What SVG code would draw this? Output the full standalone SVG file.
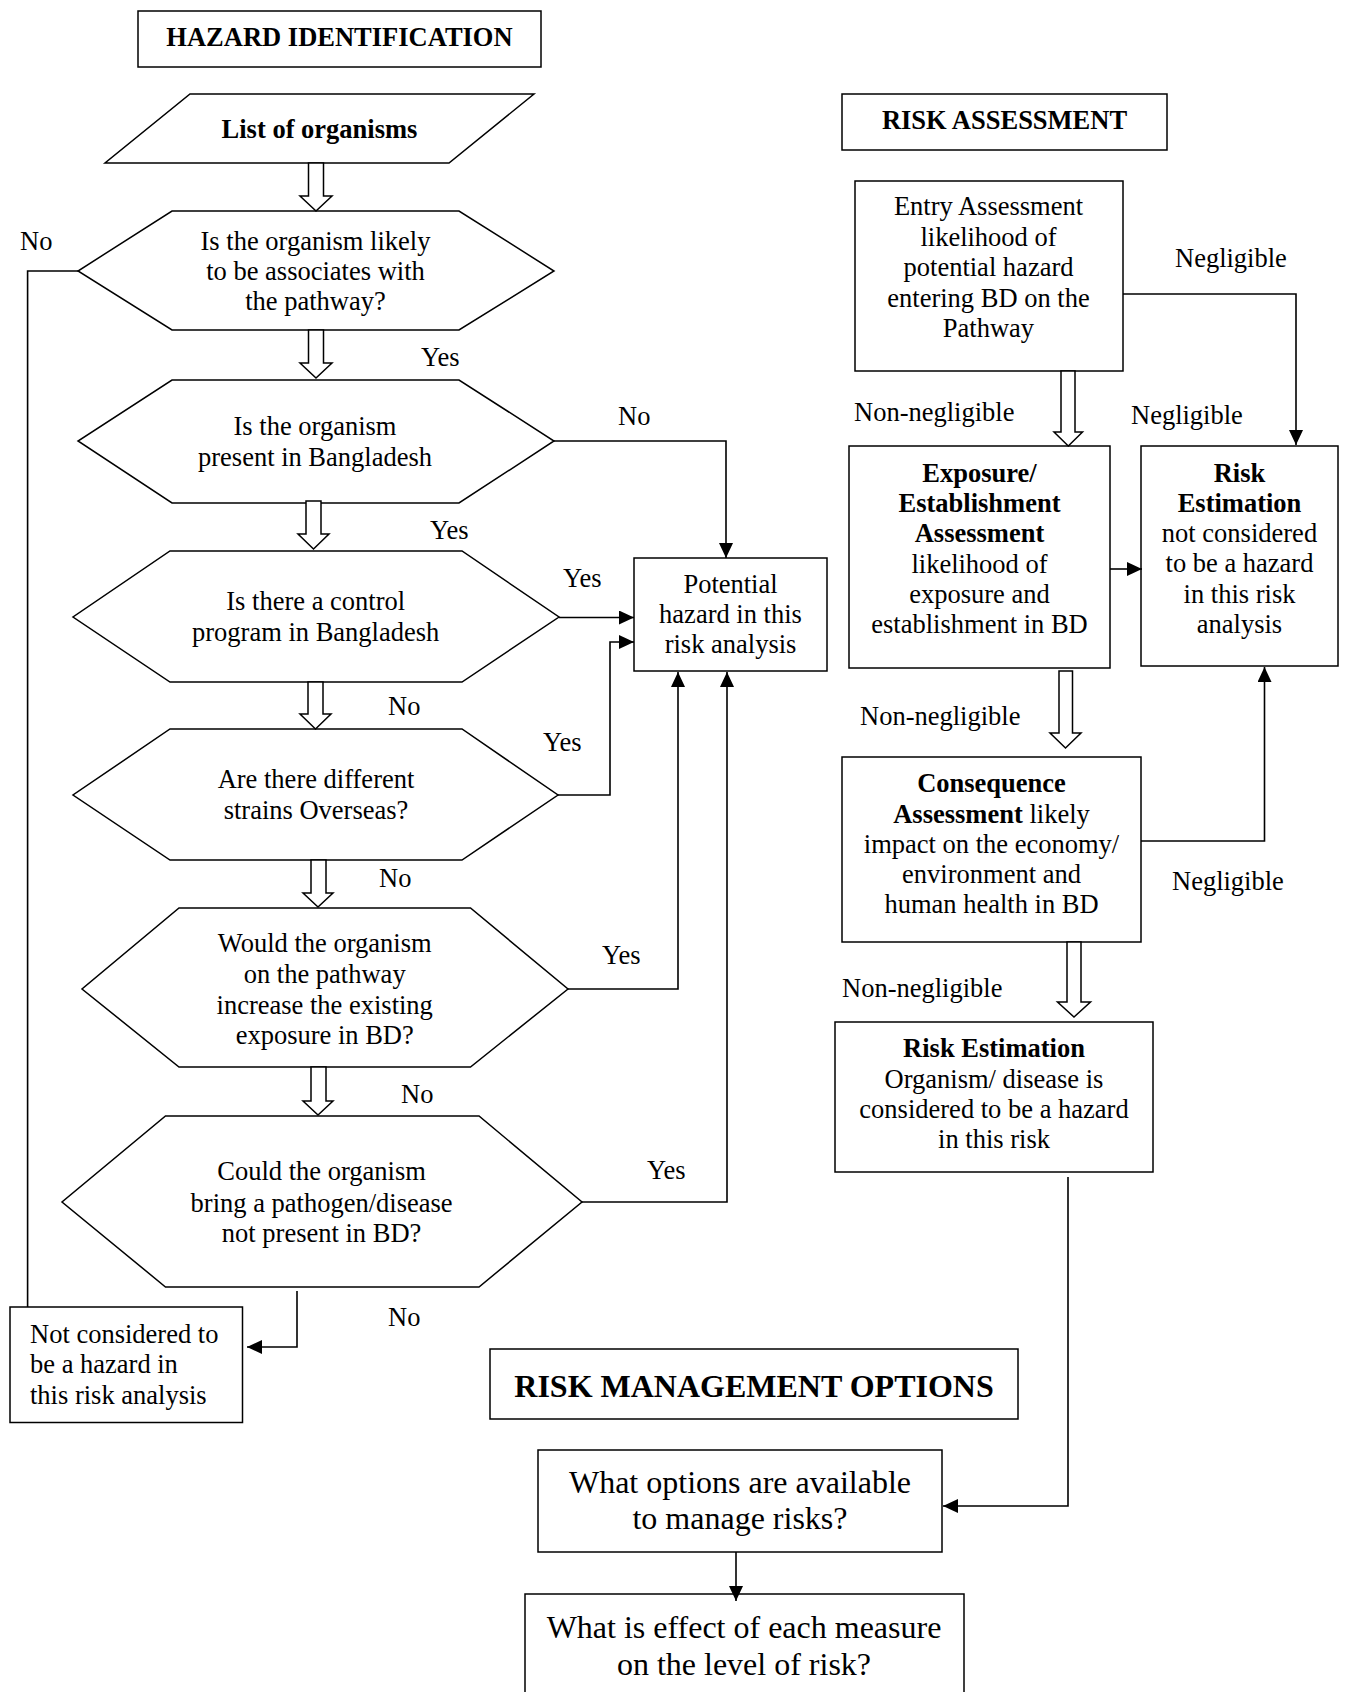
<svg xmlns="http://www.w3.org/2000/svg" width="1347" height="1692" viewBox="0 0 1347 1692">
  <defs>
    <marker id="arrow" markerUnits="userSpaceOnUse" markerWidth="16" markerHeight="14" refX="15" refY="7" orient="auto">
      <path d="M0,0 L15,7 L0,14 Z" fill="#000"/>
    </marker>
    <style>
      text { font-family: "Liberation Serif", "Times New Roman", serif; font-size: 26.5px; fill: #000; }
      .c { text-anchor: middle; }
      .b { font-weight: bold; }
      .big { font-size: 32px; }
      .shape { fill: #fff; stroke: #000; stroke-width: 1.5; }
      .hollow { fill: #fff; stroke: #000; stroke-width: 1.5; stroke-linejoin: miter; }
      .link { fill: none; stroke: #000; stroke-width: 1.6; }
      .link-a { fill: none; stroke: #000; stroke-width: 1.6; marker-end: url(#arrow); }
    </style>
  </defs>
  <rect width="1347" height="1692" fill="#fff"/>

  <!-- Section headers -->
  <g id="hdr-hazard">
    <rect class="shape" x="138" y="11" width="403" height="56"/>
    <text class="c b" x="339.5" y="45.5">HAZARD IDENTIFICATION</text>
  </g>
  <g id="hdr-risk">
    <rect class="shape" x="842" y="94" width="325" height="56"/>
    <text class="c b" x="1004.5" y="129">RISK ASSESSMENT</text>
  </g>
  <g id="hdr-mgmt">
    <rect class="shape" x="490" y="1349" width="528" height="70"/>
    <text class="c b big" x="754" y="1397">RISK MANAGEMENT OPTIONS</text>
  </g>

  <!-- Hazard identification column -->
  <g id="list">
    <polygon class="shape" points="190,94 534,94 449,163 105,163"/>
    <text class="c b" x="319.5" y="138">List of organisms</text>
  </g>
  <g id="q-pathway">
    <polygon class="shape" points="172,211 459,211 554,271 459,330 172,330 78,271"/>
    <text class="c" x="315.5" y="250">Is the organism likely</text>
    <text class="c" x="315.5" y="280">to be associates with</text>
    <text class="c" x="315.5" y="310">the pathway?</text>
  </g>
  <g id="q-present">
    <polygon class="shape" points="172,380 459,380 554,441 459,503 172,503 78,441"/>
    <text class="c" x="315" y="435">Is the organism</text>
    <text class="c" x="315" y="466">present in Bangladesh</text>
  </g>
  <g id="q-control">
    <polygon class="shape" points="170,551 462,551 559,617 462,682 170,682 73,617"/>
    <text class="c" x="315.7" y="610">Is there a control</text>
    <text class="c" x="315.7" y="641">program in Bangladesh</text>
  </g>
  <g id="q-strains">
    <polygon class="shape" points="170,729 462,729 558,795 462,860 170,860 73,795"/>
    <text class="c" x="316" y="788">Are there different</text>
    <text class="c" x="316" y="819">strains Overseas?</text>
  </g>
  <g id="q-exposure">
    <polygon class="shape" points="179,908 470.5,908 568,989 470.5,1067 179,1067 82,989"/>
    <text class="c" x="324.7" y="952">Would the organism</text>
    <text class="c" x="324.7" y="983">on the pathway</text>
    <text class="c" x="324.7" y="1013.5">increase the existing</text>
    <text class="c" x="324.7" y="1044">exposure in BD?</text>
  </g>
  <g id="q-pathogen">
    <polygon class="shape" points="165.5,1116 479,1116 582,1202 479,1287 165.5,1287 62,1202"/>
    <text class="c" x="321.6" y="1180">Could the organism</text>
    <text class="c" x="321.6" y="1212">bring a pathogen/disease</text>
    <text class="c" x="321.6" y="1242">not present in BD?</text>
  </g>
  <g id="not-hazard">
    <rect class="shape" x="10" y="1307" width="232.5" height="115.5"/>
    <text x="30" y="1343">Not considered to</text>
    <text x="30" y="1373">be a hazard in</text>
    <text x="30" y="1404">this risk analysis</text>
  </g>
  <g id="potential">
    <rect class="shape" x="634" y="558" width="193" height="113"/>
    <text class="c" x="730.5" y="593">Potential</text>
    <text class="c" x="730.5" y="623">hazard in this</text>
    <text class="c" x="730.5" y="653">risk analysis</text>
  </g>

  <!-- Risk assessment column -->
  <g id="entry">
    <rect class="shape" x="855" y="181" width="268" height="190"/>
    <text class="c" x="988.5" y="215">Entry Assessment</text>
    <text class="c" x="988.5" y="246">likelihood of</text>
    <text class="c" x="988.5" y="276">potential hazard</text>
    <text class="c" x="988.5" y="307">entering BD on the</text>
    <text class="c" x="988.5" y="337">Pathway</text>
  </g>
  <g id="exposure">
    <rect class="shape" x="849" y="446" width="261" height="222"/>
    <text class="c b" x="979.5" y="482">Exposure/</text>
    <text class="c b" x="979.5" y="512">Establishment</text>
    <text class="c b" x="979.5" y="542">Assessment</text>
    <text class="c" x="979.5" y="573">likelihood of</text>
    <text class="c" x="979.5" y="603">exposure and</text>
    <text class="c" x="979.5" y="633">establishment in BD</text>
  </g>
  <g id="estimation-neg">
    <rect class="shape" x="1141" y="446" width="197" height="220"/>
    <text class="c b" x="1239.5" y="482">Risk</text>
    <text class="c b" x="1239.5" y="512">Estimation</text>
    <text class="c" x="1239.5" y="542">not considered</text>
    <text class="c" x="1239.5" y="572">to be a hazard</text>
    <text class="c" x="1239.5" y="603">in this risk</text>
    <text class="c" x="1239.5" y="633">analysis</text>
  </g>
  <g id="consequence">
    <rect class="shape" x="842" y="757" width="299" height="185"/>
    <text class="c b" x="991.5" y="792">Consequence</text>
    <text class="c" x="991.5" y="823"><tspan class="b">Assessment</tspan> likely</text>
    <text class="c" x="991.5" y="853">impact on the economy/</text>
    <text class="c" x="991.5" y="883">environment and</text>
    <text class="c" x="991.5" y="913">human health in BD</text>
  </g>
  <g id="estimation-hazard">
    <rect class="shape" x="835" y="1022" width="318" height="150"/>
    <text class="c b" x="994" y="1057">Risk Estimation</text>
    <text class="c" x="994" y="1088">Organism/ disease is</text>
    <text class="c" x="994" y="1118">considered to be a hazard</text>
    <text class="c" x="994" y="1148">in this risk</text>
  </g>

  <!-- Risk management -->
  <g id="options">
    <rect class="shape" x="538" y="1450" width="404" height="102"/>
    <text class="c big" x="740" y="1493">What options are available</text>
    <text class="c big" x="740" y="1529">to manage risks?</text>
  </g>
  <g id="effect">
    <rect class="shape" x="525" y="1594" width="439" height="110"/>
    <text class="c big" x="744" y="1638">What is effect of each measure</text>
    <text class="c big" x="744" y="1675">on the level of risk?</text>
  </g>

  <!-- Connectors -->
  <g id="connectors">
    <!-- hollow flow arrows -->
    <path class="hollow" d="M308.5,163 H323.5 V196 H332 L316,211 L300,196 H308.5 Z"/>
    <path class="hollow" d="M308.5,330 H323.5 V363 H332 L316,378 L300,363 H308.5 Z"/>
    <path class="hollow" d="M306,501 H321 V534 H329 L313.5,549 L298,534 H306 Z"/>
    <path class="hollow" d="M308,682 H323 V714 H331 L315.5,729 L300,714 H308 Z"/>
    <path class="hollow" d="M311,860 H326 V893 H333 L318,907 L303,893 H311 Z"/>
    <path class="hollow" d="M311,1067 H326 V1101 H333 L318,1115 L303,1101 H311 Z"/>
    <path class="hollow" d="M1061,371 H1075 V432 H1082.5 L1068.3,446 L1054,432 H1061 Z"/>
    <path class="hollow" d="M1059,671 H1072.5 V733 H1081 L1065.5,748 L1050,733 H1059 Z"/>
    <path class="hollow" d="M1067,942 H1081 V1002 H1090.5 L1074,1017 L1057.5,1002 H1067 Z"/>

    <!-- decision branches -->
    <polyline class="link" points="78,271 27.6,271 27.6,1307"/>
    <polyline class="link-a" points="554,441 726,441 726,558"/>
    <polyline class="link-a" points="559,617.5 634,617.5"/>
    <polyline class="link-a" points="558,795 610,795 610,642 634,642"/>
    <polyline class="link-a" points="568,989 678,989 678,672"/>
    <polyline class="link-a" points="582,1202 727,1202 727,672"/>
    <polyline class="link-a" points="297,1291 297,1347 247,1347"/>

    <!-- assessment branches -->
    <polyline class="link-a" points="1123,294 1296,294 1296,445"/>
    <polyline class="link-a" points="1110,569 1142,569"/>
    <polyline class="link-a" points="1141,841 1264.5,841 1264.5,667"/>
    <polyline class="link-a" points="1068,1177 1068,1506 943,1506"/>
    <polyline class="link-a" points="736,1552 736,1601"/>
  </g>

  <!-- Branch labels -->
  <g id="labels">
    <text x="20" y="250">No</text>
    <text x="421" y="366">Yes</text>
    <text x="618" y="425">No</text>
    <text x="430" y="539">Yes</text>
    <text x="563" y="587">Yes</text>
    <text x="388" y="715">No</text>
    <text x="543" y="751">Yes</text>
    <text x="379" y="887">No</text>
    <text x="602" y="964">Yes</text>
    <text x="401" y="1103">No</text>
    <text x="647" y="1179">Yes</text>
    <text x="388" y="1326">No</text>
    <text x="1175" y="267">Negligible</text>
    <text x="854" y="421">Non-negligible</text>
    <text x="1131" y="424">Negligible</text>
    <text x="860" y="725">Non-negligible</text>
    <text x="1172" y="890">Negligible</text>
    <text x="842" y="997">Non-negligible</text>
  </g>
</svg>
